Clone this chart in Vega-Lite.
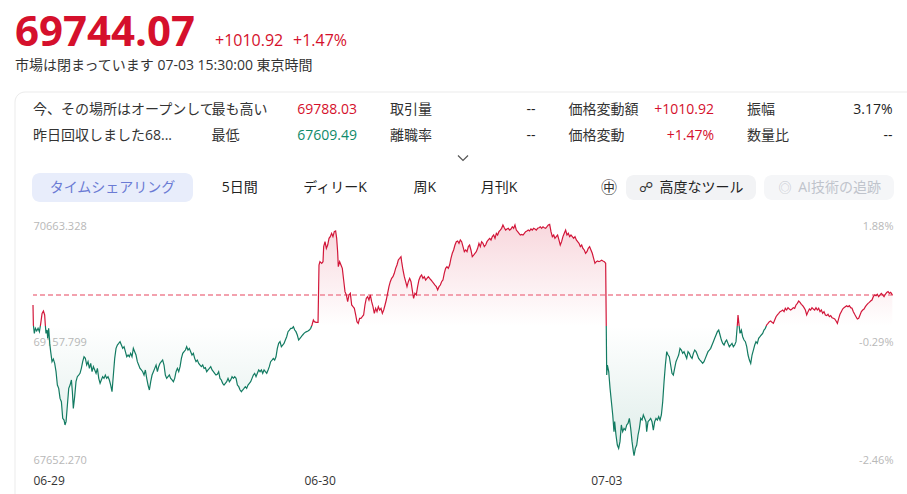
{
"$schema": "https://vega.github.io/schema/vega-lite/v6.json",
"width": 860, "height": 245,
"autosize": {"type": "none"},
"padding": {"left": 33, "top": 220, "right": 14, "bottom": 29},
"background": "#ffffff",
"config": {"view": {"stroke": null}, "font": "'Open Sans','Noto Sans CJK JP'"},
"data": {"values": [{}]},
"datasets": {
"table": [
{"row":"r1","col":"c0","label":"今、その場所はオープンして","value":"","tone":"flat"},
{"row":"r2","col":"c0","label":"昨日回収しました68...","value":"","tone":"flat"},
{"row":"r1","col":"c1","label":"最も高い","value":"69788.03","tone":"up"},
{"row":"r2","col":"c1","label":"最低","value":"67609.49","tone":"down"},
{"row":"r1","col":"c2","label":"取引量","value":"--","tone":"flat"},
{"row":"r2","col":"c2","label":"離職率","value":"--","tone":"flat"},
{"row":"r1","col":"c3","label":"価格変動額","value":"+1010.92","tone":"up"},
{"row":"r2","col":"c3","label":"価格変動","value":"+1.47%","tone":"up"},
{"row":"r1","col":"c4","label":"振幅","value":"3.17%","tone":"flat"},
{"row":"r2","col":"c4","label":"数量比","value":"--","tone":"flat"}
],
"price": [
{"t":0,"p":69619},{"t":0.4,"p":69373},{"t":1.4,"p":69270},{"t":2.5,"p":69332},{"t":3.9,"p":69299},{"t":5.3,"p":69332},{"t":6.7,"p":69291},{"t":8.1,"p":69393},{"t":9.5,"p":69516},{"t":10.9,"p":69545},{"t":12.2,"p":69496},{"t":12.9,"p":69373},{"t":13.6,"p":69270},{"t":14.7,"p":69311},{"t":15.4,"p":69209},{"t":16.4,"p":69332},{"t":17.5,"p":69147},{"t":18.5,"p":69045},{"t":19.9,"p":68922},{"t":21.3,"p":68955},{"t":22.7,"p":68901},{"t":24.1,"p":68799},{"t":25.5,"p":68635},{"t":26.9,"p":68594},{"t":28.3,"p":68471},{"t":29.7,"p":68430},{"t":31.1,"p":68226},{"t":32.5,"p":68205},{"t":33.5,"p":68144},{"t":34.6,"p":68185},{"t":36.0,"p":68389},{"t":37.4,"p":68594},{"t":38.8,"p":68635},{"t":40.2,"p":68697},{"t":41.2,"p":68553},{"t":42.2,"p":68348},{"t":43.6,"p":68492},{"t":45.0,"p":68676},{"t":46.4,"p":68738},{"t":47.8,"p":68758},{"t":49.2,"p":68779},{"t":50.6,"p":68840},{"t":52.0,"p":68922},{"t":53.4,"p":68983},{"t":54.8,"p":68963},{"t":56.2,"p":68881},{"t":57.6,"p":68922},{"t":59.0,"p":68840},{"t":60.4,"p":68901},{"t":61.8,"p":68799},{"t":63.2,"p":68861},{"t":64.6,"p":68820},{"t":66.0,"p":68779},{"t":67.4,"p":68840},{"t":68.8,"p":68717},{"t":70.2,"p":68656},{"t":71.5,"p":68697},{"t":72.9,"p":68738},{"t":74.3,"p":68717},{"t":75.7,"p":68758},{"t":77.1,"p":68717},{"t":78.5,"p":68738},{"t":79.9,"p":68697},{"t":81.3,"p":68635},{"t":82.7,"p":68553},{"t":84.1,"p":68758},{"t":85.5,"p":68963},{"t":86.9,"p":69086},{"t":88.3,"p":69127},{"t":89.7,"p":69147},{"t":91.1,"p":69168},{"t":92.5,"p":69127},{"t":93.9,"p":69086},{"t":95.3,"p":69106},{"t":96.7,"p":69045},{"t":98.1,"p":68983},{"t":99.5,"p":69004},{"t":100.8,"p":68983},{"t":102.2,"p":69024},{"t":103.6,"p":68983},{"t":105.0,"p":69086},{"t":106.4,"p":69045},{"t":107.8,"p":69004},{"t":109.2,"p":68922},{"t":110.6,"p":68881},{"t":112.0,"p":68840},{"t":113.4,"p":68820},{"t":114.8,"p":68799},{"t":116.2,"p":68758},{"t":117.6,"p":68820},{"t":119.0,"p":68717},{"t":120.4,"p":68635},{"t":121.8,"p":68574},{"t":123.2,"p":68676},{"t":124.6,"p":68758},{"t":126.0,"p":68799},{"t":127.4,"p":68840},{"t":128.8,"p":68881},{"t":130.2,"p":68799},{"t":131.5,"p":68861},{"t":132.9,"p":68901},{"t":134.3,"p":68922},{"t":135.7,"p":68942},{"t":137.1,"p":68881},{"t":138.5,"p":68758},{"t":139.9,"p":68717},{"t":141.3,"p":68738},{"t":142.7,"p":68758},{"t":144.1,"p":68717},{"t":145.5,"p":68697},{"t":146.9,"p":68676},{"t":148.3,"p":68717},{"t":149.7,"p":68799},{"t":151.1,"p":68840},{"t":152.5,"p":68799},{"t":153.9,"p":68861},{"t":155.3,"p":68963},{"t":156.7,"p":69024},{"t":158.1,"p":69045},{"t":159.5,"p":69065},{"t":160.8,"p":69106},{"t":162.2,"p":69065},{"t":163.6,"p":69086},{"t":165.0,"p":69045},{"t":166.4,"p":69004},{"t":167.8,"p":69024},{"t":169.2,"p":68963},{"t":170.6,"p":68922},{"t":172.0,"p":68942},{"t":173.4,"p":68901},{"t":174.8,"p":68881},{"t":176.2,"p":68861},{"t":177.6,"p":68881},{"t":179.0,"p":68840},{"t":180.4,"p":68848},{"t":181.8,"p":68799},{"t":183.2,"p":68820},{"t":184.6,"p":68840},{"t":186.0,"p":68861},{"t":187.4,"p":68820},{"t":188.8,"p":68799},{"t":190.1,"p":68779},{"t":191.5,"p":68758},{"t":192.9,"p":68767},{"t":194.3,"p":68799},{"t":195.7,"p":68717},{"t":197.1,"p":68697},{"t":198.5,"p":68656},{"t":199.9,"p":68635},{"t":201.3,"p":68656},{"t":202.7,"p":68676},{"t":204.1,"p":68717},{"t":205.5,"p":68676},{"t":206.9,"p":68697},{"t":208.3,"p":68738},{"t":209.7,"p":68717},{"t":211.1,"p":68738},{"t":212.5,"p":68717},{"t":213.9,"p":68635},{"t":215.3,"p":68615},{"t":216.7,"p":68574},{"t":218.1,"p":68553},{"t":219.4,"p":68574},{"t":220.8,"p":68594},{"t":222.2,"p":68615},{"t":223.6,"p":68594},{"t":225.0,"p":68635},{"t":226.4,"p":68656},{"t":227.8,"p":68676},{"t":229.2,"p":68717},{"t":230.6,"p":68758},{"t":232.0,"p":68779},{"t":233.4,"p":68738},{"t":234.8,"p":68779},{"t":236.2,"p":68820},{"t":237.6,"p":68799},{"t":239.0,"p":68820},{"t":240.4,"p":68779},{"t":241.8,"p":68820},{"t":243.2,"p":68799},{"t":244.6,"p":68779},{"t":246.0,"p":68820},{"t":247.3,"p":68861},{"t":248.7,"p":68922},{"t":250.1,"p":68942},{"t":251.5,"p":68963},{"t":252.9,"p":68942},{"t":254.3,"p":68983},{"t":255.7,"p":69086},{"t":257.1,"p":69147},{"t":258.5,"p":69168},{"t":259.9,"p":69106},{"t":261.3,"p":69127},{"t":262.7,"p":69147},{"t":264.1,"p":69188},{"t":265.5,"p":69229},{"t":266.9,"p":69291},{"t":268.3,"p":69311},{"t":269.7,"p":69332},{"t":271.1,"p":69332},{"t":272.5,"p":69352},{"t":273.9,"p":69311},{"t":275.2,"p":69291},{"t":276.6,"p":69250},{"t":278.0,"p":69188},{"t":279.4,"p":69209},{"t":280.8,"p":69229},{"t":282.2,"p":69250},{"t":283.6,"p":69270},{"t":285.0,"p":69283},{"t":286.4,"p":69291},{"t":287.8,"p":69299},{"t":289.2,"p":69311},{"t":290.6,"p":69332},{"t":292.0,"p":69373},{"t":293.4,"p":69434},{"t":294.4,"p":69414},{"t":296.2,"p":69406},{"t":298.3,"p":69406},
{"t":299.3,"p":70110},{"t":300.3,"p":70151},{"t":302.1,"p":70131},{"t":303.5,"p":70151},{"t":304.2,"p":70336},{"t":305.6,"p":70397},{"t":307.0,"p":70315},{"t":308.4,"p":70356},{"t":309.8,"p":70438},{"t":311.1,"p":70459},{"t":312.5,"p":70500},{"t":313.9,"p":70459},{"t":315.3,"p":70520},{"t":316.7,"p":70528},{"t":317.8,"p":70438},{"t":318.8,"p":70274},{"t":319.5,"p":70090},{"t":320.9,"p":70151},{"t":322.3,"p":70110},{"t":323.7,"p":70069},{"t":325.1,"p":69926},{"t":326.5,"p":69783},{"t":327.9,"p":69742},{"t":329.3,"p":69660},{"t":330.7,"p":69742},{"t":332.1,"p":69762},{"t":333.5,"p":69619},{"t":334.9,"p":69598},{"t":336.3,"p":69578},{"t":337.7,"p":69496},{"t":339.0,"p":69414},{"t":340.4,"p":69393},{"t":341.8,"p":69455},{"t":343.2,"p":69455},{"t":344.6,"p":69475},{"t":346.0,"p":69496},{"t":347.4,"p":69619},{"t":348.8,"p":69701},{"t":350.2,"p":69721},{"t":351.6,"p":69680},{"t":353.0,"p":69742},{"t":354.4,"p":69660},{"t":355.8,"p":69598},{"t":357.2,"p":69516},{"t":358.6,"p":69578},{"t":360.0,"p":69537},{"t":361.4,"p":69598},{"t":362.8,"p":69557},{"t":364.2,"p":69578},{"t":365.6,"p":69516},{"t":367.0,"p":69557},{"t":368.4,"p":69619},{"t":369.7,"p":69680},{"t":371.1,"p":69762},{"t":372.5,"p":69844},{"t":373.9,"p":69905},{"t":375.3,"p":69946},{"t":376.7,"p":69967},{"t":378.1,"p":70008},{"t":379.5,"p":70069},{"t":380.9,"p":70110},{"t":382.3,"p":70172},{"t":383.7,"p":70192},{"t":385.1,"p":70213},{"t":385.8,"p":70151},{"t":387.2,"p":70049},{"t":388.6,"p":69967},{"t":390.0,"p":69905},{"t":391.4,"p":69844},{"t":392.8,"p":69905},{"t":394.2,"p":69946},{"t":395.6,"p":69905},{"t":396.9,"p":69803},{"t":398.3,"p":69701},{"t":399.7,"p":69762},{"t":401.1,"p":69742},{"t":402.5,"p":69844},{"t":403.9,"p":69926},{"t":405.3,"p":69967},{"t":406.7,"p":69987},{"t":408.1,"p":69946},{"t":409.5,"p":69967},{"t":410.9,"p":69926},{"t":412.3,"p":69946},{"t":413.7,"p":69967},{"t":415.1,"p":69946},{"t":416.5,"p":69926},{"t":417.9,"p":69905},{"t":419.3,"p":69885},{"t":420.7,"p":69864},{"t":422.1,"p":69844},{"t":423.5,"p":69803},{"t":424.9,"p":69844},{"t":426.3,"p":69864},{"t":427.6,"p":69905},{"t":429.0,"p":69926},{"t":430.4,"p":70008},{"t":431.8,"p":70069},{"t":433.2,"p":70090},{"t":434.6,"p":70069},{"t":436.0,"p":70110},{"t":437.4,"p":70192},{"t":438.8,"p":70254},{"t":440.2,"p":70295},{"t":441.6,"p":70356},{"t":443.0,"p":70397},{"t":444.4,"p":70405},{"t":445.8,"p":70377},{"t":447.2,"p":70418},{"t":448.6,"p":70397},{"t":450.0,"p":70336},{"t":451.4,"p":70274},{"t":452.8,"p":70295},{"t":454.2,"p":70274},{"t":455.6,"p":70336},{"t":456.9,"p":70356},{"t":458.3,"p":70295},{"t":459.7,"p":70213},{"t":461.1,"p":70233},{"t":462.5,"p":70254},{"t":463.9,"p":70274},{"t":465.3,"p":70315},{"t":466.7,"p":70377},{"t":468.1,"p":70336},{"t":469.5,"p":70397},{"t":470.9,"p":70377},{"t":472.3,"p":70336},{"t":473.7,"p":70356},{"t":475.1,"p":70397},{"t":476.5,"p":70418},{"t":477.9,"p":70438},{"t":479.3,"p":70418},{"t":480.7,"p":70459},{"t":482.1,"p":70479},{"t":483.5,"p":70438},{"t":484.9,"p":70500},{"t":486.2,"p":70479},{"t":487.6,"p":70520},{"t":489.0,"p":70540},{"t":490.4,"p":70561},{"t":491.8,"p":70602},{"t":493.2,"p":70569},{"t":494.6,"p":70540},{"t":496.0,"p":70553},{"t":497.4,"p":70561},{"t":498.8,"p":70540},{"t":500.2,"p":70553},{"t":501.6,"p":70581},{"t":503.0,"p":70561},{"t":504.4,"p":70602},{"t":505.8,"p":70540},{"t":507.2,"p":70520},{"t":508.6,"p":70500},{"t":510.0,"p":70479},{"t":511.4,"p":70487},{"t":512.8,"p":70479},{"t":514.2,"p":70500},{"t":515.5,"p":70520},{"t":516.9,"p":70528},{"t":518.3,"p":70540},{"t":519.7,"p":70528},{"t":521.1,"p":70553},{"t":522.5,"p":70540},{"t":523.9,"p":70561},{"t":525.3,"p":70553},{"t":526.7,"p":70540},{"t":528.1,"p":70561},{"t":529.5,"p":70569},{"t":530.9,"p":70581},{"t":532.3,"p":70561},{"t":533.7,"p":70581},{"t":535.1,"p":70569},{"t":536.5,"p":70561},{"t":537.9,"p":70581},{"t":539.3,"p":70602},{"t":540.7,"p":70610},{"t":542.1,"p":70520},{"t":543.5,"p":70459},{"t":544.9,"p":70479},{"t":546.2,"p":70438},{"t":547.6,"p":70459},{"t":549.0,"p":70479},{"t":550.4,"p":70418},{"t":551.8,"p":70356},{"t":553.2,"p":70397},{"t":554.6,"p":70459},{"t":556.0,"p":70500},{"t":557.4,"p":70540},{"t":558.8,"p":70479},{"t":560.2,"p":70500},{"t":561.6,"p":70459},{"t":563.0,"p":70479},{"t":564.4,"p":70459},{"t":565.8,"p":70438},{"t":567.2,"p":70459},{"t":568.6,"p":70418},{"t":570.0,"p":70397},{"t":571.4,"p":70377},{"t":572.8,"p":70336},{"t":574.2,"p":70356},{"t":575.5,"p":70315},{"t":576.9,"p":70295},{"t":578.3,"p":70254},{"t":579.7,"p":70274},{"t":581.1,"p":70315},{"t":582.5,"p":70336},{"t":583.9,"p":70295},{"t":585.3,"p":70254},{"t":586.7,"p":70192},{"t":588.1,"p":70131},{"t":589.5,"p":70151},{"t":590.9,"p":70159},{"t":592.3,"p":70151},{"t":593.7,"p":70159},{"t":595.1,"p":70168},{"t":596.5,"p":70159},{"t":597.9,"p":70151},{"t":599.3,"p":70131},
{"t":600.4,"p":68758},{"t":601.1,"p":68881},{"t":602.5,"p":68799},{"t":603.9,"p":68594},{"t":605.3,"p":68430},{"t":606.7,"p":68267},{"t":608.0,"p":68062},{"t":608.7,"p":68185},{"t":610.1,"p":68021},{"t":611.5,"p":67898},{"t":612.9,"p":67857},{"t":614.3,"p":67939},{"t":615.7,"p":68144},{"t":617.1,"p":68062},{"t":618.5,"p":68103},{"t":619.9,"p":68082},{"t":621.3,"p":68144},{"t":622.7,"p":68164},{"t":624.1,"p":68226},{"t":625.5,"p":68103},{"t":626.9,"p":67939},{"t":628.3,"p":67816},{"t":629.0,"p":67767},{"t":630.4,"p":67857},{"t":631.8,"p":67898},{"t":633.2,"p":68021},{"t":634.6,"p":68103},{"t":636.0,"p":68226},{"t":637.4,"p":68205},{"t":638.7,"p":68267},{"t":640.1,"p":68226},{"t":641.5,"p":68185},{"t":642.2,"p":68062},{"t":643.6,"p":68185},{"t":645.0,"p":68205},{"t":646.4,"p":68226},{"t":647.8,"p":68185},{"t":649.2,"p":68082},{"t":650.6,"p":68185},{"t":652.0,"p":68226},{"t":653.4,"p":68205},{"t":654.8,"p":68246},{"t":656.2,"p":68205},{"t":657.6,"p":68267},{"t":659.0,"p":68430},{"t":660.4,"p":68676},{"t":661.8,"p":68881},{"t":663.2,"p":69045},{"t":664.6,"p":69004},{"t":665.9,"p":68983},{"t":667.3,"p":68881},{"t":668.7,"p":68779},{"t":670.1,"p":68758},{"t":671.5,"p":68840},{"t":672.9,"p":68922},{"t":674.3,"p":68963},{"t":675.7,"p":69004},{"t":677.1,"p":69086},{"t":678.5,"p":69065},{"t":679.9,"p":69024},{"t":681.3,"p":69045},{"t":682.7,"p":69004},{"t":684.1,"p":68963},{"t":685.5,"p":69045},{"t":686.9,"p":69024},{"t":688.3,"p":68983},{"t":689.7,"p":68963},{"t":691.1,"p":69024},{"t":692.5,"p":69065},{"t":693.9,"p":69045},{"t":695.3,"p":69004},{"t":696.6,"p":68963},{"t":698.0,"p":68942},{"t":699.4,"p":68922},{"t":700.8,"p":68901},{"t":702.2,"p":68922},{"t":703.6,"p":68963},{"t":705.0,"p":69004},{"t":706.4,"p":69045},{"t":707.8,"p":69065},{"t":709.2,"p":69086},{"t":710.6,"p":69127},{"t":712.0,"p":69168},{"t":713.4,"p":69209},{"t":714.8,"p":69250},{"t":716.2,"p":69291},{"t":717.6,"p":69311},{"t":719.0,"p":69250},{"t":720.4,"p":69188},{"t":721.8,"p":69147},{"t":723.2,"p":69127},{"t":724.6,"p":69168},{"t":725.9,"p":69188},{"t":727.3,"p":69147},{"t":728.7,"p":69106},{"t":730.1,"p":69127},{"t":731.5,"p":69147},{"t":732.9,"p":69106},{"t":734.3,"p":69127},{"t":735.7,"p":69168},{"t":737.1,"p":69373},{"t":737.8,"p":69496},{"t":738.5,"p":69414},{"t":739.9,"p":69270},{"t":741.3,"p":69311},{"t":742.7,"p":69229},{"t":744.1,"p":69188},{"t":745.5,"p":69168},{"t":746.9,"p":69106},{"t":748.3,"p":69004},{"t":749.7,"p":68942},{"t":751.1,"p":68901},{"t":752.5,"p":69004},{"t":753.9,"p":69065},{"t":755.3,"p":69127},{"t":756.6,"p":69168},{"t":758.0,"p":69147},{"t":759.4,"p":69209},{"t":760.8,"p":69229},{"t":762.2,"p":69250},{"t":763.6,"p":69270},{"t":765.0,"p":69311},{"t":766.4,"p":69332},{"t":767.8,"p":69373},{"t":769.2,"p":69393},{"t":770.6,"p":69414},{"t":772.0,"p":69422},{"t":773.4,"p":69406},{"t":774.8,"p":69393},{"t":776.2,"p":69434},{"t":777.6,"p":69475},{"t":779.0,"p":69496},{"t":780.4,"p":69516},{"t":781.8,"p":69537},{"t":783.2,"p":69545},{"t":784.6,"p":69557},{"t":786.0,"p":69537},{"t":787.3,"p":69578},{"t":788.7,"p":69557},{"t":790.1,"p":69586},{"t":791.5,"p":69569},{"t":792.9,"p":69557},{"t":794.3,"p":69569},{"t":795.7,"p":69586},{"t":797.1,"p":69578},{"t":798.5,"p":69619},{"t":799.9,"p":69639},{"t":801.3,"p":69668},{"t":802.7,"p":69651},{"t":804.1,"p":69627},{"t":805.5,"p":69610},{"t":806.9,"p":69586},{"t":808.3,"p":69557},{"t":809.7,"p":69496},{"t":811.1,"p":69537},{"t":812.5,"p":69569},{"t":813.8,"p":69557},{"t":815.2,"p":69586},{"t":816.6,"p":69569},{"t":818.0,"p":69557},{"t":819.4,"p":69586},{"t":820.8,"p":69557},{"t":822.2,"p":69578},{"t":823.6,"p":69537},{"t":825.0,"p":69557},{"t":826.4,"p":69516},{"t":827.8,"p":69537},{"t":829.2,"p":69496},{"t":830.6,"p":69488},{"t":832.0,"p":69504},{"t":833.4,"p":69475},{"t":834.8,"p":69488},{"t":836.2,"p":69463},{"t":837.6,"p":69455},{"t":839.0,"p":69447},{"t":840.4,"p":69422},{"t":841.8,"p":69393},{"t":843.2,"p":69455},{"t":844.5,"p":69504},{"t":845.9,"p":69537},{"t":847.3,"p":69569},{"t":848.7,"p":69586},{"t":850.1,"p":69598},{"t":851.5,"p":69610},{"t":852.9,"p":69598},{"t":854.3,"p":69610},{"t":855.7,"p":69586},{"t":857.1,"p":69578},{"t":858.5,"p":69537},{"t":859.9,"p":69504},{"t":861.3,"p":69475},{"t":862.7,"p":69447},{"t":864.1,"p":69455},{"t":865.5,"p":69496},{"t":866.9,"p":69537},{"t":868.3,"p":69557},{"t":869.7,"p":69569},{"t":871.1,"p":69598},{"t":872.5,"p":69619},{"t":873.9,"p":69639},{"t":875.2,"p":69651},{"t":876.6,"p":69668},{"t":878.0,"p":69680},{"t":879.4,"p":69721},{"t":880.8,"p":69742},{"t":882.2,"p":69733},{"t":883.6,"p":69750},{"t":885.0,"p":69721},{"t":886.4,"p":69742},{"t":887.8,"p":69762},{"t":889.2,"p":69742},{"t":890.6,"p":69721},{"t":892.0,"p":69750},{"t":893.4,"p":69774},{"t":894.8,"p":69783},{"t":896.2,"p":69762},{"t":897.6,"p":69774},{"t":899.3,"p":69744.07}
]
},
"layer": [
{"mark": {"type": "rect", "x": -18, "x2": 885, "y": -128, "y2": 290, "fill": "transparent", "stroke": "#ebebeb", "strokeWidth": 1, "cornerRadius": 10}, "encoding": {}},
{
"data": {"name": "price"},
"layer": [
{"mark": {"type": "area", "interpolate": "linear",
 "fill": {"gradient": "linear", "x1": 0, "y1": 0, "x2": 0, "y2": 1, "stops": [
  {"offset": 0, "color": "rgba(214,22,55,0.17)"},
  {"offset": 0.4399, "color": "rgba(214,22,55,0)"},
  {"offset": 0.4399, "color": "rgba(18,123,98,0)"},
  {"offset": 1, "color": "rgba(18,123,98,0.14)"}]}},
 "encoding": {
  "x": {"field": "t", "type": "quantitative", "scale": {"domain": [0, 900], "nice": false, "zero": false},
   "axis": {"values": [0, 300, 600], "labelExpr": "datum.value == 0 ? '06-29' : datum.value == 300 ? '06-30' : '07-03'", "labelFlush": true, "domain": false, "ticks": false, "grid": false, "title": null, "labelColor": "#333333", "labelFontSize": 12, "labelFont": "Open Sans", "labelPadding": 10}},
  "y": {"field": "p", "type": "quantitative", "scale": {"domain": [67652.27, 70663.328], "nice": false, "zero": false},
   "axis": {"orient": "left", "values": [67652.27, 69157.799, 70663.328], "labelExpr": "format(datum.value, '.3f')", "labelAlign": "left", "labelPadding": 0, "labelFlush": true, "domain": false, "ticks": false, "grid": false, "title": null, "labelColor": "#b8b8b8", "labelFontSize": 11, "labelFont": "Open Sans"}},
  "y2": {"datum": 69359.4}
 }},
{"mark": {"type": "rule", "stroke": "#f2a2ad", "strokeWidth": 1, "strokeDash": [5, 3]},
 "encoding": {"y": {"datum": 69744.07, "type": "quantitative",
  "axis": {"orient": "right", "values": [67652.27, 69157.799, 70663.328], "labelExpr": "datum.value > 70000 ? '1.88%' : datum.value > 69000 ? '-0.29%' : '-2.46%'", "labelAlign": "right", "labelPadding": 0, "labelFlush": true, "domain": false, "ticks": false, "grid": false, "title": null, "labelColor": "#b8b8b8", "labelFontSize": 11, "labelFont": "Open Sans"}}}},
{"mark": {"type": "line", "strokeWidth": 1.2, "interpolate": "linear",
 "stroke": {"gradient": "linear", "x1": 0, "y1": 0, "x2": 0, "y2": 1, "stops": [
  {"offset": 0, "color": "#d2173a"},
  {"offset": 0.4399, "color": "#d2173a"},
  {"offset": 0.4399, "color": "#137b62"},
  {"offset": 1, "color": "#137b62"}]}},
 "encoding": {"x": {"field": "t", "type": "quantitative"}, "y": {"field": "p", "type": "quantitative", "axis": null}}}
],
"resolve": {"axis": {"y": "independent"}}
},
{"data": {"name": "table"},
 "mark": {"type": "text", "align": "left", "baseline": "middle", "fontSize": 14, "color": "#333333"},
 "encoding": {
  "x": {"field": "col", "type": "nominal", "bandPosition": 0, "scale": {"type": "band", "domain": ["c0","c1","c2","c3","c4"], "range": [0, 892.5], "paddingInner": 0, "paddingOuter": 0}, "axis": null},
  "y": {"field": "row", "type": "nominal", "scale": {"type": "point", "domain": ["r1","r2"], "range": [-110, -84], "padding": 0}, "axis": null},
  "text": {"field": "label"}}},
{"data": {"name": "table"},
 "mark": {"type": "text", "align": "right", "baseline": "middle", "fontSize": 14},
 "encoding": {
  "x": {"field": "col", "type": "nominal", "bandPosition": 0.815, "scale": {"type": "band", "domain": ["c0","c1","c2","c3","c4"], "range": [0, 892.5], "paddingInner": 0, "paddingOuter": 0}, "axis": null},
  "y": {"field": "row", "type": "nominal", "scale": {"type": "point", "domain": ["r1","r2"], "range": [-110, -84], "padding": 0}, "axis": null},
  "color": {"field": "tone", "type": "nominal", "scale": {"domain": ["up","down","flat"], "range": ["#d5102c","#0f8a6a","#222222"]}, "legend": null},
  "text": {"field": "value"}}},
{"mark": {"type": "text", "text": "69744.07", "x": -18, "y": -174, "align": "left", "baseline": "alphabetic", "font": "Open Sans", "fontSize": 42, "fontWeight": "bold", "fill": "#d5102c"}, "encoding": {}},
{"mark": {"type": "text", "text": "+1010.92", "x": 182, "y": -174, "align": "left", "baseline": "alphabetic", "font": "Open Sans", "fontSize": 16, "fill": "#d5102c"}, "encoding": {}},
{"mark": {"type": "text", "text": "+1.47%", "x": 260, "y": -174, "align": "left", "baseline": "alphabetic", "font": "Open Sans", "fontSize": 16, "fill": "#d5102c"}, "encoding": {}},
{"mark": {"type": "text", "text": "市場は閉まっています 07-03 15:30:00 東京時間", "x": -18, "y": -154, "align": "left", "baseline": "middle", "fontSize": 14, "fill": "#333333"}, "encoding": {}},
{"mark": {"type": "point", "shape": "M-1,-0.5L0,0.5L1,-0.5", "x": 430, "y": -62, "size": 100, "filled": false, "stroke": "#555555", "strokeWidth": 1.2, "opacity": 1}, "encoding": {}},
{"mark": {"type": "rect", "x": -1, "x2": 160, "y": -47, "y2": -18, "fill": "#e8edfb", "cornerRadius": 8}, "encoding": {}},
{"mark": {"type": "text", "text": "タイムシェアリング", "x": 79.5, "y": -32, "align": "center", "baseline": "middle", "fontSize": 14, "fill": "#6b7bd4"}, "encoding": {}},
{"mark": {"type": "text", "text": "5日間", "x": 206.7, "y": -32, "align": "center", "baseline": "middle", "fontSize": 14, "fill": "#222222"}, "encoding": {}},
{"mark": {"type": "text", "text": "ディリーK", "x": 302, "y": -32, "align": "center", "baseline": "middle", "fontSize": 14, "fill": "#222222"}, "encoding": {}},
{"mark": {"type": "text", "text": "周K", "x": 391.7, "y": -32, "align": "center", "baseline": "middle", "fontSize": 14, "fill": "#222222"}, "encoding": {}},
{"mark": {"type": "text", "text": "月刊K", "x": 466, "y": -32, "align": "center", "baseline": "middle", "fontSize": 14, "fill": "#222222"}, "encoding": {}},
{"mark": {"type": "text", "text": "㊥", "x": 576, "y": -32, "align": "center", "baseline": "middle", "fontSize": 16, "fill": "#333333"}, "encoding": {}},
{"mark": {"type": "rect", "x": 593, "x2": 723, "y": -45, "y2": -20, "fill": "#f2f3f5", "cornerRadius": 8}, "encoding": {}},
{"mark": {"type": "text", "text": "☍", "x": 613, "y": -32, "align": "center", "baseline": "middle", "fontSize": 14, "fill": "#333333"}, "encoding": {}},
{"mark": {"type": "text", "text": "高度なツール", "x": 668.5, "y": -32, "align": "center", "baseline": "middle", "fontSize": 14, "fill": "#222222"}, "encoding": {}},
{"mark": {"type": "rect", "x": 731, "x2": 861, "y": -45, "y2": -20, "fill": "#f5f6f8", "cornerRadius": 8}, "encoding": {}},
{"mark": {"type": "text", "text": "◎", "x": 752, "y": -32, "align": "center", "baseline": "middle", "fontSize": 13, "fill": "#c5c9d0"}, "encoding": {}},
{"mark": {"type": "text", "text": "AI技術の追跡", "x": 806.5, "y": -32, "align": "center", "baseline": "middle", "fontSize": 14, "fill": "#c0c4cc"}, "encoding": {}}
],
"resolve": {"scale": {"x": "independent", "y": "independent", "color": "independent"}}
}
